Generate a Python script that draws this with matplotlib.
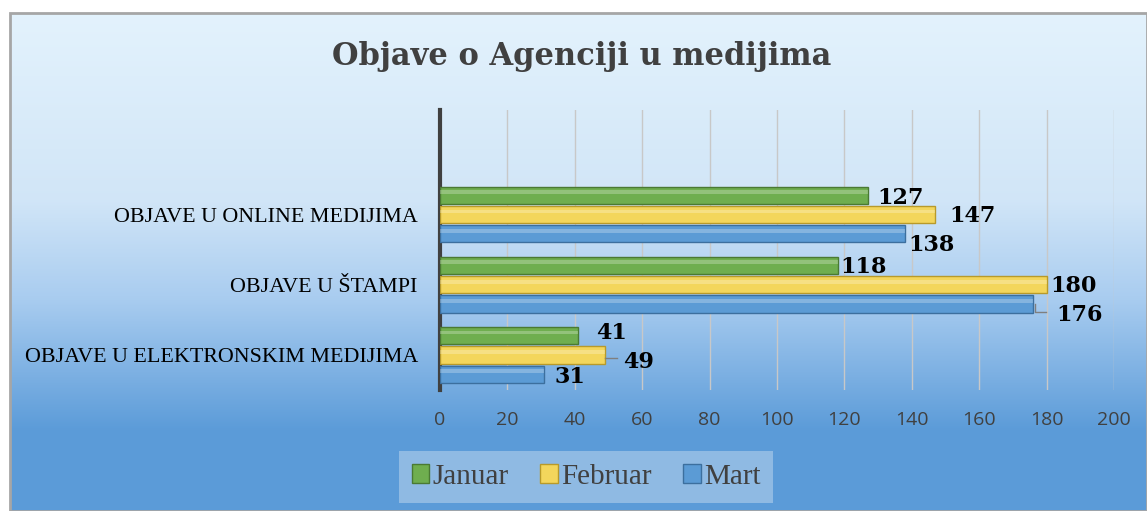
import numpy as np
import matplotlib
matplotlib.use('Agg')
import matplotlib.pyplot as plt
from matplotlib.patches import Rectangle

categories = ['OBJAVE U ELEKTRONSKIM MEDIJIMA', 'OBJAVE U ŠTAMPI', 'OBJAVE U ONLINE MEDIJIMA']
januar = [41, 118, 127]
februar = [49, 180, 147]
mart = [31, 176, 138]
series_names = ['Januar', 'Februar', 'Mart']
xticks = [0, 20, 40, 60, 80, 100, 120, 140, 160, 180, 200]

colors = ['#6fae4f', '#f3d65c', '#5b9bd5']
edges = ['#4a7a33', '#b89a2a', '#3c6f9e']

W, H = 1147, 511
fig = plt.figure(figsize=(W / 100, H / 100), dpi=100)
fig.patch.set_facecolor('white')

# chart background with vertical gradient
bg = fig.add_axes([0, 0, 1, 1])
bg.set_xlim(0, W)
bg.set_ylim(H, 0)
bg.axis('off')
stops_y = [13, 200, 300, 430, 511]
stops_c = np.array([[0.89, 0.95, 0.99], [0.82, 0.90, 0.97], [0.66, 0.80, 0.94],
                    [0.36, 0.61, 0.85], [0.36, 0.61, 0.85]])
ys = np.linspace(13, H, 300)
img = np.stack([np.interp(ys, stops_y, stops_c[:, k]) for k in range(3)], axis=-1).reshape(-1, 1, 3)
bg.imshow(img, extent=[10, W, H, 13], aspect='auto', interpolation='bilinear')
bg.add_patch(Rectangle((10, 13), W - 10, H - 13, fill=False, ec='#a6a6a6', lw=2))

bg.text(582, 57, 'Objave o Agenciji u medijima', ha='center', va='center',
        fontsize=22, fontweight='bold', family='DejaVu Serif', color='#404040')

# main axes
ax = fig.add_axes([440 / W, (H - 390) / H, (1114 - 440) / W, (390 - 110) / H])
ax.patch.set_alpha(0)
y = np.arange(len(categories))
h = 0.245
offs = [h * 1.12, 0, -h * 1.12]
for i, (vals, name) in enumerate(zip([januar, februar, mart], series_names)):
    ax.barh(y + offs[i], vals, height=h, color=colors[i], edgecolor=edges[i], lw=1.0, label=name, zorder=3)
    # highlight stripe for a bevel look
    ax.barh(y + offs[i] + h * 0.18, vals, height=h * 0.22, color='white', alpha=0.25, lw=0, zorder=4)

# label offsets (points): [series][category]
label_offsets = [
    [(13, 2), (2, -1), (7, -2)],    # januar
    [(13, -5), (3, -1), (10, -1)],  # februar
    [(7, -2), (17, -8), (2, -8)],   # mart
]
for i, vals in enumerate([januar, februar, mart]):
    for j, v in enumerate(vals):
        dx, dy = label_offsets[i][j]
        ax.annotate(str(v), xy=(v, y[j] + offs[i]), xytext=(dx, dy), textcoords='offset points',
                    ha='left', va='center', fontsize=16, fontweight='bold', family='DejaVu Serif',
                    color='black', zorder=6)
# leader lines
v = februar[0]
ax.plot([v, v + 3.5], [y[0] + offs[1] - 0.05] * 2, color='#7f7f7f', lw=1, zorder=5)
v = mart[1]
yy = y[1] + offs[2]
ax.plot([v + 0.5, v + 0.5, v + 3.8], [yy, yy - 0.12, yy - 0.12], color='#7f7f7f', lw=1, zorder=5)

ax.set_xlim(0, 200)
ax.set_ylim(-0.5, 3.49)
ax.set_xticks(xticks)
ax.set_xticklabels([str(t) for t in xticks], fontsize=14, family='Open Sans', color='#404040')
ax.set_yticks(y)
ax.set_yticklabels(categories, fontsize=15.8, family='Liberation Serif', color='black')
ax.tick_params(axis='both', length=0)
ax.tick_params(axis='x', pad=15)
ax.tick_params(axis='y', pad=16)
ax.grid(axis='x', color='#c8c8c8', lw=1, zorder=0)
for s in ['top', 'right', 'bottom']:
    ax.spines[s].set_visible(False)
ax.spines['left'].set_color('#404040')
ax.spines['left'].set_linewidth(3)

leg = fig.legend(loc='center', bbox_to_anchor=(586 / W, 1 - 477 / H), ncol=3,
                 prop={'family': 'Liberation Serif', 'size': 21}, frameon=True,
                 handlelength=0.6, handleheight=0.6, handletextpad=0.1, columnspacing=1.1,
                 borderpad=0.45, fancybox=False)
leg.get_frame().set_facecolor('#9dc3e6')
leg.get_frame().set_edgecolor('none')
for t in leg.get_texts():
    t.set_color('#404040')

fig.savefig('out.png', dpi=100)
